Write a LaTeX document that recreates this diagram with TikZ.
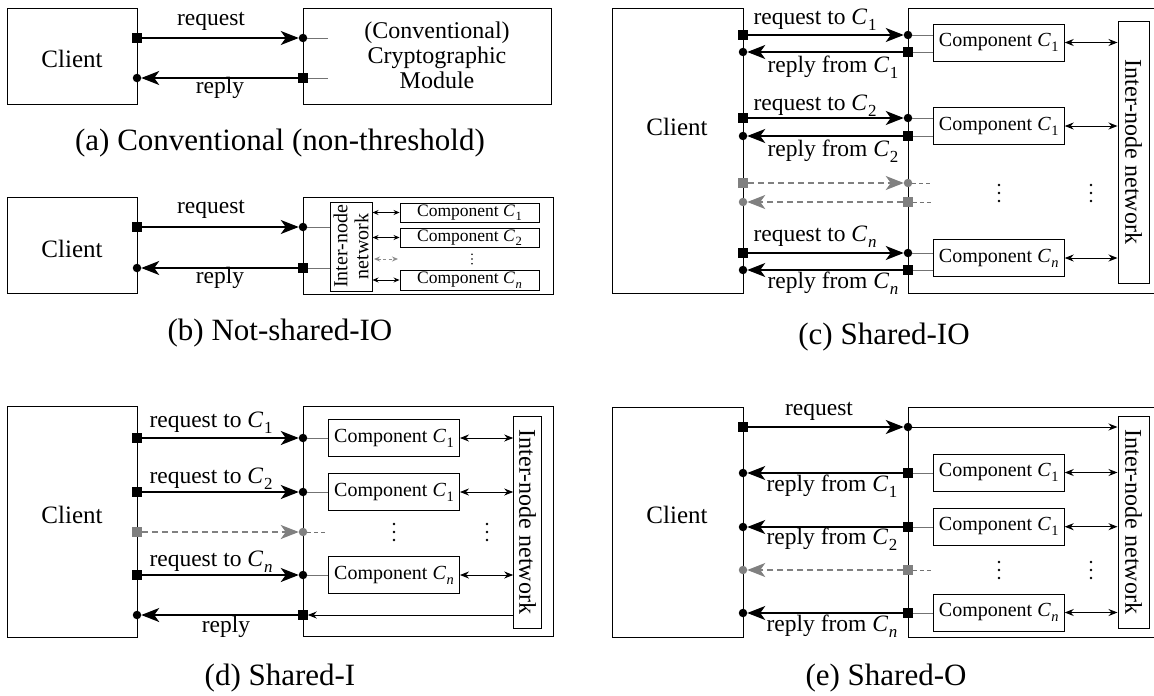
\documentclass[tikz,border=0pt]{standalone}
\usepackage{fontspec}
\setmainfont{Liberation Serif}
\usetikzlibrary{arrows.meta}

% C with a small subscript, set in text mode
\newcommand\Csub[1]{\textit{C}\kern0.03em\raisebox{-0.26em}{\scalebox{0.72}{#1}}}

\tikzset{
  boxframe/.style={draw, line width=1pt, inner sep=0pt, outer sep=0pt},
  sqmark/.style={fill, rectangle, minimum size=9.5pt, inner sep=0pt, outer sep=0pt},
  dotmark/.style={fill, circle, minimum size=8.5pt, inner sep=0pt, outer sep=0pt},
  ghostsq/.style={sqmark, black!50},
  ghostdot/.style={dotmark, black!50},
  msg/.style={line width=1.5pt, -{Stealth[length=18pt,width=14pt,inset=5pt]}},
  ghostmsg/.style={msg, black!50, dash pattern=on 6pt off 4pt},
  smallmsg/.style={line width=1pt, -{Stealth[length=9pt,width=7pt]}},
  stub/.style={line width=1pt, black!55},
  ghoststub/.style={stub, dash pattern=on 4pt off 3pt},
  link/.style={line width=1pt, {Stealth[length=9pt,width=7pt]}-{Stealth[length=9pt,width=7pt]}},
  minilink/.style={line width=0.9pt, {Stealth[length=6pt,width=5pt]}-{Stealth[length=6pt,width=5pt]}},
  ghostlink/.style={minilink, black!45, dash pattern=on 3pt off 2.5pt},
  comp/.style={draw, line width=0.9pt, minimum width=131pt, minimum height=37pt, inner sep=0pt,
    font=\fontsize{20}{24}\selectfont},
  minicomp/.style={draw, line width=0.9pt, minimum width=139pt, minimum height=19pt, inner sep=0pt,
    font=\fontsize{17.5}{20}\selectfont},
  net/.style={draw, line width=1pt, rotate=-90, inner sep=0pt, font=\fontsize{24}{26}\selectfont},
  clienttext/.style={font=\fontsize{25}{29}\selectfont},
  lbl/.style={font=\fontsize{23.5}{27}\selectfont, inner sep=0pt},
  subcaption/.style={font=\fontsize{31}{35}\selectfont},
  ellip/.pic={\foreach \k in {-1,0,1} \fill (0,\k*8) circle (1.4);}
}

\begin{document}
\begin{tikzpicture}[x=1pt, y=-1pt]
\useasboundingbox (0,0) rectangle (1154,696);

% ---------------- (a) conventional ----------------
\node[boxframe, minimum width=130, minimum height=96, anchor=north west] (aCl) at (7,8) {};
\node[boxframe, minimum width=248, minimum height=96, anchor=north west] (aMod) at (303,8) {};
\node[clienttext] (aClT) at (72,59) {Client};
\node[align=center, font=\fontsize{24}{25}\selectfont] (aModT) at (437,55)
  {(Conventional)\\Cryptographic\\Module};
\node[sqmark] (aQs) at (137,38) {};
\node[dotmark] (aQd) at (303,38) {};
\node[sqmark] (aRs) at (303,78) {};
\node[dotmark] (aRd) at (137,78) {};
\coordinate (aQe) at (328,38);
\coordinate (aRe) at (328,78);
\draw[stub] (aQd) -- (aQe);
\draw[stub] (aRs) -- (aRe);
\draw[msg] (aQs) -- (aQd);
\draw[msg] (aRs) -- (aRd);
\node[lbl] (aQl) at (211,21) {request};
\node[lbl] (aRl) at (220,88) {reply};
\node[subcaption] (aCap) at (280,143) {(a) Conventional (non-threshold)};

% ---------------- (b) not-shared-IO ----------------
\node[boxframe, minimum width=130, minimum height=96, anchor=north west] (bCl) at (7,197) {};
\node[boxframe, minimum width=250, minimum height=97, anchor=north west] (bMod) at (303,197) {};
\node[clienttext] (bClT) at (72,249) {Client};
\node[draw, line width=1pt, rotate=90, minimum width=89, minimum height=42, inner sep=0pt,
  align=center, font=\fontsize{20}{21}\selectfont] (bNet) at (351,246.5) {Inter-node\\network};
\node[minicomp] (bC1) at (469.5,212.5) {Component \Csub{1}};
\node[minicomp] (bC2) at (469.5,237.5) {Component \Csub{2}};
\node[minicomp, minimum height=20] (bCn) at (469.5,280) {Component \Csub{\textit{n}}};
\node[sqmark] (bQs) at (137,227) {};
\node[dotmark] (bQd) at (303,227) {};
\node[sqmark] (bRs) at (303,268) {};
\node[dotmark] (bRd) at (137,268) {};
\draw[stub] (bQd) -- (bQd -| bNet.north);
\draw[stub] (bRs) -- (bRs -| bNet.north);
\draw[msg] (bQs) -- (bQd);
\draw[msg] (bRs) -- (bRd);
\draw[minilink] (bC1.west -| bNet.south) -- (bC1.west);
\draw[minilink] (bC2.west -| bNet.south) -- (bC2.west);
\draw[minilink] (bCn.west -| bNet.south) -- (bCn.west);
\coordinate (bG1) at (374,259);
\coordinate (bG2) at (398,259);
\draw[ghostlink] (bG1) -- (bG2);
\pic[scale=0.6] at (472,259) {ellip};
\node[lbl] (bQl) at (211,209) {request};
\node[lbl] (bRl) at (220,278) {reply};
\node[subcaption] (bCap) at (280,333) {(b) Not-shared-IO};

% ---------------- (c) shared-IO ----------------
\node[boxframe, minimum width=131, minimum height=285, anchor=north west] (cCl) at (612,8) {};
\draw[line width=1pt] (1158,8) -- (908,8) -- (908,293) -- (1158,293);
\node[clienttext] (cClT) at (677,127) {Client};
\node[comp] (cC1) at (998.75,42.5) {Component \Csub{1}};
\node[comp] (cC2) at (998.75,126) {Component \Csub{1}};
\node[comp] (cCn) at (998.75,258) {Component \Csub{\textit{n}}};
\node[net, minimum width=262, minimum height=31] (cNet) at (1133.5,152) {Inter-node network};
% first component
\node[sqmark] (cQ1s) at (743,35) {};
\node[dotmark] (cQ1d) at (908,35) {};
\node[sqmark] (cR1s) at (908,52) {};
\node[dotmark] (cR1d) at (743,52) {};
% second component
\node[sqmark] (cQ2s) at (743,118) {};
\node[dotmark] (cQ2d) at (908,118) {};
\node[sqmark] (cR2s) at (908,136) {};
\node[dotmark] (cR2d) at (743,136) {};
% elided components
\node[ghostsq] (cQgs) at (743,183) {};
\node[ghostdot] (cQgd) at (908,183) {};
\node[ghostsq] (cRgs) at (908,202) {};
\node[ghostdot] (cRgd) at (743,202) {};
% last component
\node[sqmark] (cQns) at (743,253) {};
\node[dotmark] (cQnd) at (908,253) {};
\node[sqmark] (cRns) at (908,270) {};
\node[dotmark] (cRnd) at (743,270) {};
\draw[stub] (cQ1d) -- (cQ1d -| cC1.west);
\draw[stub] (cR1s) -- (cR1s -| cC1.west);
\draw[stub] (cQ2d) -- (cQ2d -| cC2.west);
\draw[stub] (cR2s) -- (cR2s -| cC2.west);
\draw[stub] (cQnd) -- (cQnd -| cCn.west);
\draw[stub] (cRns) -- (cRns -| cCn.west);
\coordinate (cQge) at (932,183);
\coordinate (cRge) at (932,202);
\draw[ghoststub] (cQgd) -- (cQge);
\draw[ghoststub] (cRgs) -- (cRge);
\draw[msg] (cQ1s) -- (cQ1d);
\draw[msg] (cR1s) -- (cR1d);
\draw[msg] (cQ2s) -- (cQ2d);
\draw[msg] (cR2s) -- (cR2d);
\draw[ghostmsg] (cQgs) -- (cQgd);
\draw[ghostmsg] (cRgs) -- (cRgd);
\draw[msg] (cQns) -- (cQnd);
\draw[msg] (cRns) -- (cRnd);
\draw[link] (cC1.east) -- (cC1.east -| cNet.south);
\draw[link] (cC2.east) -- (cC2.east -| cNet.south);
\draw[link] (cCn.east) -- (cCn.east -| cNet.south);
\pic at (999,193) {ellip};
\pic at (1091,193) {ellip};
\node[lbl] (cQ1l) at (815,20) {request to \Csub{1}};
\node[lbl] (cR1l) at (833,67) {reply from \Csub{1}};
\node[lbl] (cQ2l) at (815,106) {request to \Csub{2}};
\node[lbl] (cR2l) at (833,151) {reply from \Csub{2}};
\node[lbl] (cQnl) at (815,237) {request to \Csub{\textit{n}}};
\node[lbl] (cRnl) at (833,283) {reply from \Csub{\textit{n}}};
\node[subcaption] (cCap) at (884,337) {(c) Shared-IO};

% ---------------- (d) shared-I ----------------
\node[boxframe, minimum width=130, minimum height=231, anchor=north west] (dCl) at (7,406) {};
\node[boxframe, minimum width=250, minimum height=230, anchor=north west] (dMod) at (303,406) {};
\node[clienttext] (dClT) at (72,515) {Client};
\node[comp] (dC1) at (394,438) {Component \Csub{1}};
\node[comp] (dC2) at (394,492) {Component \Csub{1}};
\node[comp] (dCn) at (394,575) {Component \Csub{\textit{n}}};
\node[net, minimum width=212, minimum height=28] (dNet) at (527.7,522) {Inter-node network};
\node[sqmark] (dQ1s) at (137,438) {};
\node[dotmark] (dQ1d) at (303,438) {};
\node[sqmark] (dQ2s) at (137,492) {};
\node[dotmark] (dQ2d) at (303,492) {};
\node[ghostsq] (dQgs) at (137,532) {};
\node[ghostdot] (dQgd) at (303,532) {};
\node[sqmark] (dQns) at (137,575) {};
\node[dotmark] (dQnd) at (303,575) {};
\node[sqmark] (dRs) at (303,615) {};
\node[dotmark] (dRd) at (137,615) {};
\draw[stub] (dQ1d) -- (dC1.west);
\draw[stub] (dQ2d) -- (dC2.west);
\draw[stub] (dQnd) -- (dCn.west);
\coordinate (dQge) at (328,532);
\draw[ghoststub] (dQgd) -- (dQge);
\draw[msg] (dQ1s) -- (dQ1d);
\draw[msg] (dQ2s) -- (dQ2d);
\draw[ghostmsg] (dQgs) -- (dQgd);
\draw[msg] (dQns) -- (dQnd);
\draw[smallmsg] (dRs -| dNet.south) -- (dRs);
\draw[msg] (dRs) -- (dRd);
\draw[link] (dC1.east) -- (dC1.east -| dNet.south);
\draw[link] (dC2.east) -- (dC2.east -| dNet.south);
\draw[link] (dCn.east) -- (dCn.east -| dNet.south);
\pic at (394,532) {ellip};
\pic at (487,532) {ellip};
\node[lbl] (dQ1l) at (211,423) {request to \Csub{1}};
\node[lbl] (dQ2l) at (211,479) {request to \Csub{2}};
\node[lbl] (dQnl) at (211,562) {request to \Csub{\textit{n}}};
\node[lbl] (dRl) at (226,627) {reply};
\node[subcaption] (dCap) at (280,678) {(d) Shared-I};

% ---------------- (e) shared-O ----------------
\node[boxframe, minimum width=131, minimum height=230, anchor=north west] (eCl) at (612,407) {};
\draw[line width=1pt] (1158,407) -- (908,407) -- (908,637) -- (1158,637);
\node[clienttext] (eClT) at (677,515) {Client};
\node[comp] (eC1) at (998.75,472.5) {Component \Csub{1}};
\node[comp] (eC2) at (998.75,526.7) {Component \Csub{1}};
\node[comp] (eCn) at (998.75,612.5) {Component \Csub{\textit{n}}};
\node[net, minimum width=212, minimum height=31] (eNet) at (1133.5,522) {Inter-node network};
\node[sqmark] (eQs) at (743,427) {};
\node[dotmark] (eQd) at (908,427) {};
\node[sqmark] (eR1s) at (908,473) {};
\node[dotmark] (eR1d) at (743,473) {};
\node[sqmark] (eR2s) at (908,527) {};
\node[dotmark] (eR2d) at (743,527) {};
\node[ghostsq] (eRgs) at (908,570) {};
\node[ghostdot] (eRgd) at (743,570) {};
\node[sqmark] (eRns) at (908,613) {};
\node[dotmark] (eRnd) at (743,613) {};
\draw[stub] (eR1s) -- (eR1s -| eC1.west);
\draw[stub] (eR2s) -- (eR2s -| eC2.west);
\draw[stub] (eRns) -- (eRns -| eCn.west);
\coordinate (eRge) at (932,570);
\draw[ghoststub] (eRgs) -- (eRge);
\draw[msg] (eQs) -- (eQd);
\draw[smallmsg] (eQd) -- (eQd -| eNet.south);
\draw[msg] (eR1s) -- (eR1d);
\draw[msg] (eR2s) -- (eR2d);
\draw[ghostmsg] (eRgs) -- (eRgd);
\draw[msg] (eRns) -- (eRnd);
\draw[link] (eC1.east) -- (eC1.east -| eNet.south);
\draw[link] (eC2.east) -- (eC2.east -| eNet.south);
\draw[link] (eCn.east) -- (eCn.east -| eNet.south);
\pic at (999,570) {ellip};
\pic at (1091,570) {ellip};
\node[lbl] (eQl) at (819,411) {request};
\node[lbl] (eR1l) at (832,486) {reply from \Csub{1}};
\node[lbl] (eR2l) at (832,539) {reply from \Csub{2}};
\node[lbl] (eRnl) at (832,626) {reply from \Csub{\textit{n}}};
\node[subcaption] (eCap) at (886,678) {(e) Shared-O};
\end{tikzpicture}
\end{document}
